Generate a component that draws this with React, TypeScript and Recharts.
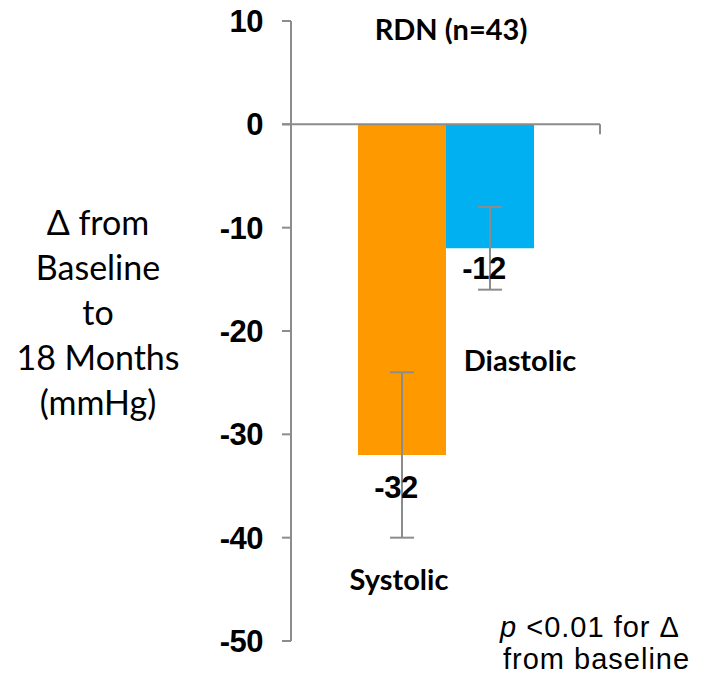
import { BarChart, Bar, XAxis, YAxis, ReferenceLine, ErrorBar, LabelList } from 'recharts';

const categories = ['RDN (n=43)'];
const systolic = [-32];
const diastolic = [-12];
const systolicErr = [8];
const diastolicErr = [4];
const seriesNames = ['Systolic', 'Diastolic'];
const yTicks = [10, 0, -10, -20, -30, -40, -50];
const yLabelLines = ['Δ from', 'Baseline', 'to', '18 Months', '(mmHg)'];

const data = categories.map((name, i) => ({
  name,
  systolic: systolic[i],
  diastolic: diastolic[i],
  systolicErr: systolicErr[i],
  diastolicErr: diastolicErr[i],
}));

const AXIS = '#8c8c8c';
const ARIAL = '"Liberation Sans", Arial, sans-serif';
const CAL = 'Lato, "Open Sans", sans-serif';

// value label under the bar end
const valueLabel = (dx: number, dy: number) => (p: any) => {
  const bottom = Math.max(p.y, p.y + p.height);
  return (
    <text x={p.x + p.width / 2 + dx} y={bottom + dy} textAnchor="middle" dominantBaseline="central"
      fontFamily={ARIAL} fontWeight="bold" fontSize={31} letterSpacing={-0.5} fill="#000">
      {p.value}
    </text>
  );
};

const nameLabel = (name: string, dx: number, dy: number) => (p: any) => {
  const bottom = Math.max(p.y, p.y + p.height);
  return (
    <text x={p.x + p.width / 2 + dx} y={bottom + dy} textAnchor="middle" dominantBaseline="central"
      fontFamily={CAL} fontWeight="bold" fontSize={29} fill="#000">
      {name}
    </text>
  );
};

const ZeroAxis = (p: any) => (
  <g>
    <line x1={p.x1 - 9} y1={p.y1} x2={p.x2} y2={p.y2} stroke={AXIS} strokeWidth={2} />
    <line x1={p.x2} y1={p.y2} x2={p.x2} y2={p.y2 + 10} stroke={AXIS} strokeWidth={2} />
  </g>
);

export default function App() {
  return (
    <div style={{ position: 'absolute', left: 0, top: 0, width: 706, height: 676, background: '#fff', overflow: 'hidden' }}>
      <BarChart width={706} height={676} data={data} margin={{ top: 21, right: 106, bottom: 35, left: 0 }}
        barCategoryGap={67} barGap={0}>
        <XAxis dataKey="name" hide />
        <YAxis width={291} domain={[-50, 10]} ticks={yTicks} interval={0} tickSize={9} tickMargin={19}
          axisLine={{ stroke: AXIS, strokeWidth: 2 }} tickLine={{ stroke: AXIS, strokeWidth: 2 }}
          tick={{ fill: '#000', fontFamily: ARIAL, fontWeight: 'bold', fontSize: 31, letterSpacing: -0.5 }} />
        <Bar dataKey="systolic" fill="#FF9900" isAnimationActive={false}>
          <ErrorBar dataKey="systolicErr" width={12} stroke={AXIS} strokeWidth={2} />
          <LabelList dataKey="systolic" content={valueLabel(-6, 32)} />
          <LabelList dataKey="systolic" content={nameLabel(seriesNames[0], -3, 123)} />
        </Bar>
        <Bar dataKey="diastolic" fill="#00B0F0" isAnimationActive={false}>
          <ErrorBar dataKey="diastolicErr" width={12} stroke={AXIS} strokeWidth={2} />
          <LabelList dataKey="diastolic" content={valueLabel(-6, 20)} />
          <LabelList dataKey="diastolic" content={nameLabel(seriesNames[1], 30, 111)} />
        </Bar>
        <ReferenceLine y={0} shape={ZeroAxis} />
      </BarChart>
      <div style={{ position: 'absolute', left: 451, top: 28, transform: 'translate(-50%, -50%)',
        fontFamily: CAL, fontWeight: 'bold', fontSize: 29, whiteSpace: 'nowrap' }}>
        {categories[0]}
      </div>
      <div style={{ position: 'absolute', left: 0, top: 199, width: 196, textAlign: 'center',
        fontFamily: CAL, fontSize: 34, lineHeight: '45px' }}>
        {yLabelLines.map((l) => <div key={l}>{l}</div>)}
      </div>
      <div style={{ position: 'absolute', left: 500, top: 611, fontFamily: ARIAL, fontSize: 29,
        letterSpacing: 1, lineHeight: '32px', whiteSpace: 'nowrap' }}>
        <i>p</i> &lt;0.01 for Δ
      </div>
      <div style={{ position: 'absolute', left: 503, top: 643, fontFamily: ARIAL, fontSize: 29,
        letterSpacing: 1, lineHeight: '32px', whiteSpace: 'nowrap' }}>
        from baseline
      </div>
    </div>
  );
}
